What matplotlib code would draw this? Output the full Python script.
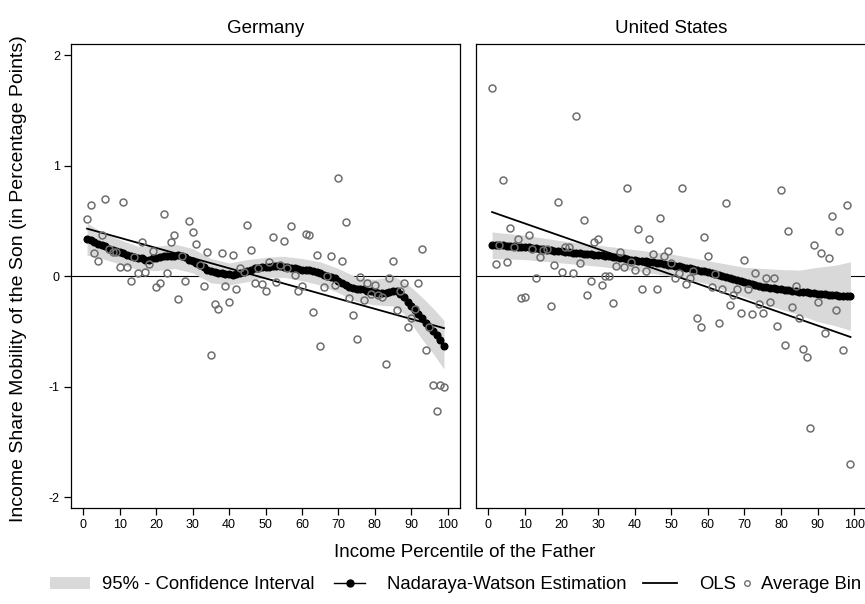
import numpy as np
import matplotlib.pyplot as plt
from matplotlib.patches import Patch
from matplotlib.lines import Line2D

plt.rcParams['font.family'] = ['Liberation Sans', 'DejaVu Sans']
plt.rcParams['axes.unicode_minus'] = False

pct = np.arange(1, 100)

# Germany: average bins, Nadaraya-Watson fit, 95% band, OLS line
de_bin = [0.52, 0.64, 0.21, 0.14, 0.37, 0.70, 0.25, 0.22, 0.22, 0.08,
          0.67, 0.08, -0.04, 0.17, 0.03, 0.31, 0.04, 0.11, 0.23, -0.10,
          -0.06, 0.56, 0.03, 0.31, 0.37, -0.21, 0.18, -0.04, 0.50, 0.40,
          0.29, 0.10, -0.09, 0.22, -0.71, -0.25, -0.30, 0.21, -0.09, -0.23,
          0.19, -0.12, 0.07, 0.04, 0.46, 0.24, -0.06, 0.07, -0.07, -0.13,
          0.13, 0.35, -0.05, 0.10, 0.32, 0.07, 0.45, 0.01, -0.13, -0.09,
          0.38, 0.37, -0.32, 0.19, -0.63, -0.10, 0.00, 0.18, -0.08, 0.89,
          0.14, 0.49, -0.20, -0.35, -0.57, -0.01, -0.22, -0.06, -0.16, -0.08,
          -0.17, -0.19, -0.79, -0.02, 0.14, -0.31, -0.13, -0.06, -0.46, -0.38,
          -0.30, -0.06, 0.25, -0.67, -0.46, -0.98, -1.22, -0.98, -1.00]
de_nw = [0.34, 0.33, 0.31, 0.29, 0.28, 0.27, 0.25, 0.24, 0.23, 0.22,
         0.21, 0.19, 0.18, 0.17, 0.16, 0.16, 0.15, 0.15, 0.16, 0.16,
         0.17, 0.18, 0.18, 0.18, 0.18, 0.19, 0.18, 0.17, 0.15, 0.14,
         0.12, 0.10, 0.08, 0.06, 0.05, 0.04, 0.03, 0.03, 0.02, 0.02,
         0.01, 0.02, 0.03, 0.04, 0.05, 0.06, 0.07, 0.07, 0.08, 0.08,
         0.085, 0.09, 0.09, 0.09, 0.085, 0.08, 0.075, 0.07, 0.065, 0.06,
         0.06, 0.055, 0.05, 0.04, 0.03, 0.015, 0.00, -0.01, -0.02, -0.04,
         -0.06, -0.08, -0.10, -0.11, -0.12, -0.12, -0.12, -0.13, -0.13, -0.14,
         -0.15, -0.15, -0.15, -0.14, -0.13, -0.13, -0.16, -0.19, -0.23, -0.27,
         -0.31, -0.34, -0.38, -0.42, -0.46, -0.50, -0.53, -0.58, -0.63]
de_ci_x = [1, 5, 10, 15, 20, 25, 30, 35, 40, 45, 50, 55, 60, 65, 70, 75, 80, 85, 88, 90, 93, 96, 99]
de_ci_hi = [0.48, 0.40, 0.33, 0.27, 0.27, 0.29, 0.25, 0.16, 0.12, 0.15, 0.17, 0.18, 0.16, 0.13,
            0.07, -0.01, -0.03, 0.00, -0.05, -0.10, -0.19, -0.29, -0.40]
de_ci_lo = [0.19, 0.16, 0.11, 0.06, 0.05, 0.07, 0.03, -0.06, -0.08, -0.05, -0.01, -0.01, -0.04, -0.08,
            -0.15, -0.23, -0.26, -0.27, -0.34, -0.43, -0.57, -0.70, -0.84]
de_ols_x = [1, 99]
de_ols_y = [0.43, -0.47]

# United States
us_bin = [1.70, 0.11, 0.28, 0.87, 0.13, 0.44, 0.26, 0.34, -0.20, -0.19,
          0.37, 0.25, -0.02, 0.17, 0.24, 0.25, -0.27, 0.10, 0.67, 0.04,
          0.26, 0.26, 0.03, 1.45, 0.12, 0.51, -0.17, -0.04, 0.31, 0.34,
          -0.08, 0.00, 0.00, -0.24, 0.09, 0.22, 0.08, 0.80, 0.13, 0.06,
          0.43, -0.12, 0.05, 0.34, 0.20, -0.12, 0.53, 0.18, 0.23, 0.12,
          -0.02, 0.03, 0.80, -0.07, -0.02, 0.05, -0.38, -0.46, 0.35, 0.18,
          -0.10, 0.02, -0.42, -0.12, 0.66, -0.26, -0.17, -0.12, -0.33, 0.15,
          -0.12, -0.34, 0.03, -0.25, -0.33, -0.02, -0.23, -0.02, -0.45, 0.78,
          -0.62, 0.41, -0.28, -0.09, -0.38, -0.66, -0.73, -1.37, 0.28, -0.23,
          0.21, -0.51, 0.16, 0.54, -0.31, 0.41, -0.67, 0.64, -1.70]
us_nw = [0.278, 0.278, 0.278, 0.278, 0.277, 0.274, 0.271, 0.268, 0.266, 0.264,
         0.262, 0.258, 0.254, 0.250, 0.245, 0.240, 0.236, 0.232, 0.228, 0.224,
         0.220, 0.216, 0.212, 0.209, 0.206, 0.203, 0.200, 0.197, 0.194, 0.191,
         0.188, 0.184, 0.180, 0.176, 0.171, 0.166, 0.161, 0.156, 0.150, 0.145,
         0.141, 0.137, 0.133, 0.129, 0.125, 0.120, 0.115, 0.110, 0.105, 0.100,
         0.095, 0.089, 0.083, 0.077, 0.071, 0.065, 0.058, 0.051, 0.044, 0.036,
         0.028, 0.019, 0.010, 0.001, -0.008, -0.017, -0.026, -0.035, -0.045, -0.055,
         -0.065, -0.075, -0.083, -0.090, -0.097, -0.102, -0.107, -0.111, -0.115, -0.119,
         -0.123, -0.127, -0.131, -0.135, -0.139, -0.143, -0.147, -0.151, -0.155, -0.159,
         -0.162, -0.165, -0.168, -0.171, -0.173, -0.175, -0.177, -0.179, -0.181]
us_ci_x = [1, 10, 20, 30, 40, 50, 60, 70, 80, 85, 90, 95, 99]
us_ci_hi = [0.40, 0.37, 0.32, 0.28, 0.24, 0.20, 0.14, 0.08, 0.06, 0.055, 0.08, 0.10, 0.13]
us_ci_lo = [0.16, 0.15, 0.12, 0.09, 0.05, 0.00, -0.07, -0.19, -0.30, -0.35, -0.41, -0.45, -0.49]
us_ols_x = [1, 99]
us_ols_y = [0.58, -0.55]

band_col = '#d9d9d9'
bin_col = '#6e6e6e'


def panel(ax, title, bins, nw, ci_x, ci_lo, ci_hi, ols_x, ols_y):
    ax.axhline(0, color='black', lw=0.8, zorder=1)
    ax.fill_between(ci_x, ci_lo, ci_hi, color=band_col, lw=0, zorder=2)
    ax.plot(ols_x, ols_y, color='black', lw=1.3, zorder=3)
    ax.plot(pct, nw, color='black', lw=1, marker='o', ms=4.8, zorder=4)
    ax.plot(pct, bins, ls='', marker='o', ms=5, mfc='none', mec=bin_col, mew=1.1, zorder=5)
    ax.set_xlim(-3.4, 103.4)
    ax.set_ylim(-2.1, 2.1)
    ax.set_xticks(np.arange(0, 101, 10))
    ax.set_yticks([-2, -1, 0, 1, 2])
    ax.tick_params(which='both', direction='out', length=5, width=0.9, labelsize=9, pad=3)
    for s in ax.spines.values():
        s.set_linewidth(0.9)
    ax.set_title(title, fontsize=13.5, pad=8)


fig = plt.figure(figsize=(8.65, 6.04), dpi=100)
ax1 = fig.add_axes([0.0821, 0.1584, 0.4497, 0.7687])
ax2 = fig.add_axes([0.5503, 0.1584, 0.4515, 0.7687])

panel(ax1, 'Germany', de_bin, de_nw, de_ci_x, de_ci_lo, de_ci_hi, de_ols_x, de_ols_y)
panel(ax2, 'United States', us_bin, us_nw, us_ci_x, us_ci_lo, us_ci_hi, us_ols_x, us_ols_y)
ax1.tick_params(axis='y', pad=3)
ax2.tick_params(axis='y', left=False, labelleft=False)

fig.text(0.537, 0.086, 'Income Percentile of the Father', ha='center', va='center', fontsize=13.5)
fig.text(0.021, 0.538, 'Income Share Mobility of the Son (in Percentage Points)',
         rotation=90, ha='center', va='center', fontsize=14)

# legend keys laid out one by one: (handle, label, left edge px, key length, gap to text)
keys = [(Patch(facecolor=band_col, edgecolor='none'), '95% - Confidence Interval', 50, 2.17, 0.65),
        (Line2D([], [], color='black', lw=1, marker='o', ms=5), 'Nadaraya-Watson Estimation', 334, 1.68, 1.19),
        (Line2D([], [], color='black', lw=1.3), 'OLS', 643, 1.84, 1.2),
        (Line2D([], [], ls='', marker='o', ms=4, mfc='none', mec=bin_col, mew=1), 'Average Bin', 740, 0.76, 0.35)]
for h, lab, x0, hl, tp in keys:
    fig.legend([h], [lab], loc='center left', bbox_to_anchor=(x0 / 865, 0.0315),
               frameon=False, fontsize=13.3, handlelength=hl, handletextpad=tp,
               borderpad=0, borderaxespad=0)

plt.savefig('out.png', dpi=100)
